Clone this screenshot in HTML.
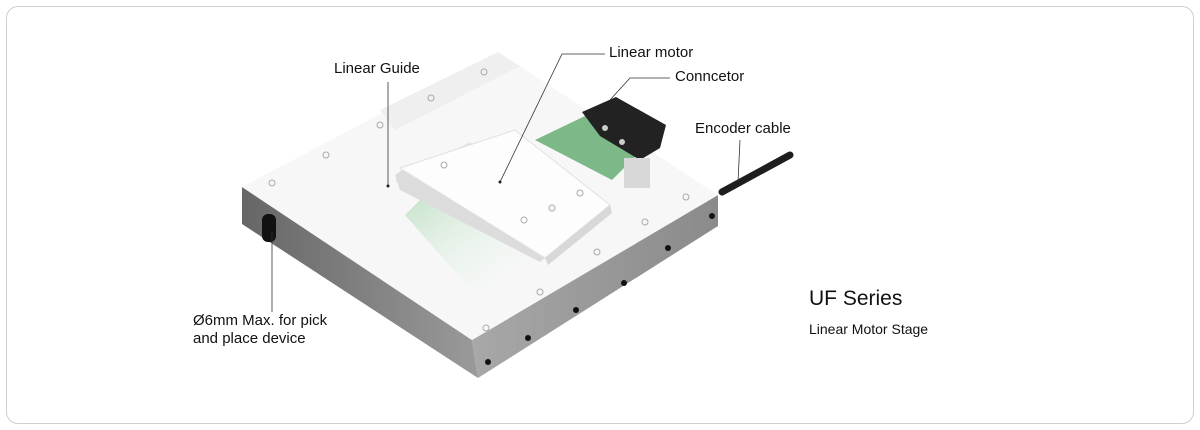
<!DOCTYPE html>
<html><head><meta charset="utf-8"><style>
html,body{margin:0;padding:0;background:#fff;}
body{width:1200px;height:430px;position:relative;overflow:hidden;font-family:"Liberation Sans",sans-serif;}
.frame{position:absolute;left:6px;top:6px;width:1186px;height:416px;border:1px solid #cfcfcf;border-radius:12px;}
.t{position:absolute;color:#111;font-size:15px;white-space:nowrap;}
</style></head><body>
<div class="frame"></div>
<svg width="1200" height="430" style="position:absolute;left:0;top:0">
<defs>
<linearGradient id="lf" x1="0" y1="0" x2="1" y2="0"><stop offset="0" stop-color="#666"/><stop offset="1" stop-color="#9a9a9a"/></linearGradient>
<linearGradient id="rf" x1="0" y1="0" x2="1" y2="0"><stop offset="0" stop-color="#a8a8a8"/><stop offset="1" stop-color="#8a8a8a"/></linearGradient>
<linearGradient id="gr" x1="0" y1="0" x2="1" y2="1"><stop offset="0" stop-color="#c6e3cb"/><stop offset="1" stop-color="#fff" stop-opacity="0"/></linearGradient>
</defs>
<polygon points="242,187 472,340 478,378 242,224" fill="url(#lf)"/>
<polygon points="472,340 718,195 718,226 478,378" fill="url(#rf)"/>
<polygon points="242,187 498,52 718,195 472,340" fill="#f7f7f7"/>
<!-- guide rail strip -->
<polygon points="380,110 498,52 520,66 395,130" fill="#efefef"/>
<polygon points="395,180 470,142 480,150 405,190" fill="#e6e6e6"/>
<polygon points="420,200 540,262 480,300 405,215" fill="url(#gr)"/>
<polygon points="535,140 585,116 646,146 612,180" fill="#7cb888"/>
<polygon points="400,168 515,130 610,205 545,258" fill="#fdfdfd" stroke="#e0e0e0"/>
<polygon points="545,258 610,205 612,213 548,265" fill="#d8d8d8"/>
<polygon points="395,175 402,170 545,258 540,262 400,190" fill="#dcdcdc"/>
<polygon points="582,112 616,97 666,125 660,148 640,160 600,136" fill="#222"/>
<circle cx="605" cy="128" r="3" fill="#ccc"/><circle cx="622" cy="142" r="3" fill="#ccc"/>
<rect x="624" y="158" width="26" height="30" fill="#d8d8d8"/>
<line x1="722" y1="192" x2="790" y2="155" stroke="#1e1e1e" stroke-width="7" stroke-linecap="round"/>
<rect x="262" y="214" width="14" height="28" rx="6" fill="#111"/>
<g fill="#111"><circle cx="488" cy="362" r="3"/><circle cx="528" cy="338" r="3"/><circle cx="576" cy="310" r="3"/><circle cx="624" cy="283" r="3"/><circle cx="668" cy="248" r="3"/><circle cx="712" cy="216" r="3"/></g>
<g fill="none" stroke="#aaa" stroke-width="1">
<circle cx="484" cy="72" r="3"/><circle cx="431" cy="98" r="3"/><circle cx="380" cy="125" r="3"/><circle cx="326" cy="155" r="3"/><circle cx="272" cy="183" r="3"/>
<circle cx="686" cy="197" r="3"/><circle cx="645" cy="222" r="3"/><circle cx="597" cy="252" r="3"/><circle cx="540" cy="292" r="3"/><circle cx="486" cy="328" r="3"/>
<circle cx="580" cy="193" r="3"/><circle cx="552" cy="208" r="3"/><circle cx="524" cy="220" r="3"/><circle cx="444" cy="165" r="3"/>
</g>
<g stroke="#333" stroke-width="0.8" fill="none">
<polyline points="388,82 388,186"/>
<polyline points="605,54 562,54 500,182"/>
<polyline points="670,78 630,78 610,100"/>
<polyline points="740,140 738,182"/>
<polyline points="272,232 272,312"/>
</g>
<circle cx="388" cy="186" r="1.5" fill="#222"/><circle cx="500" cy="182" r="1.5" fill="#222"/>
</svg>
<div class="t" style="left:334px;top:60px">Linear Guide</div>
<div class="t" style="left:609px;top:44px">Linear motor</div>
<div class="t" style="left:675px;top:68px">Conncetor</div>
<div class="t" style="left:695px;top:120px">Encoder cable</div>
<div class="t" style="left:193px;top:312px;line-height:18px">Ø6mm Max. for pick<br>and place device</div>
<div class="t" style="left:809px;top:287px;font-size:21px">UF Series</div>
<div class="t" style="left:809px;top:321px;font-size:14px">Linear Motor Stage</div>
</body></html>
